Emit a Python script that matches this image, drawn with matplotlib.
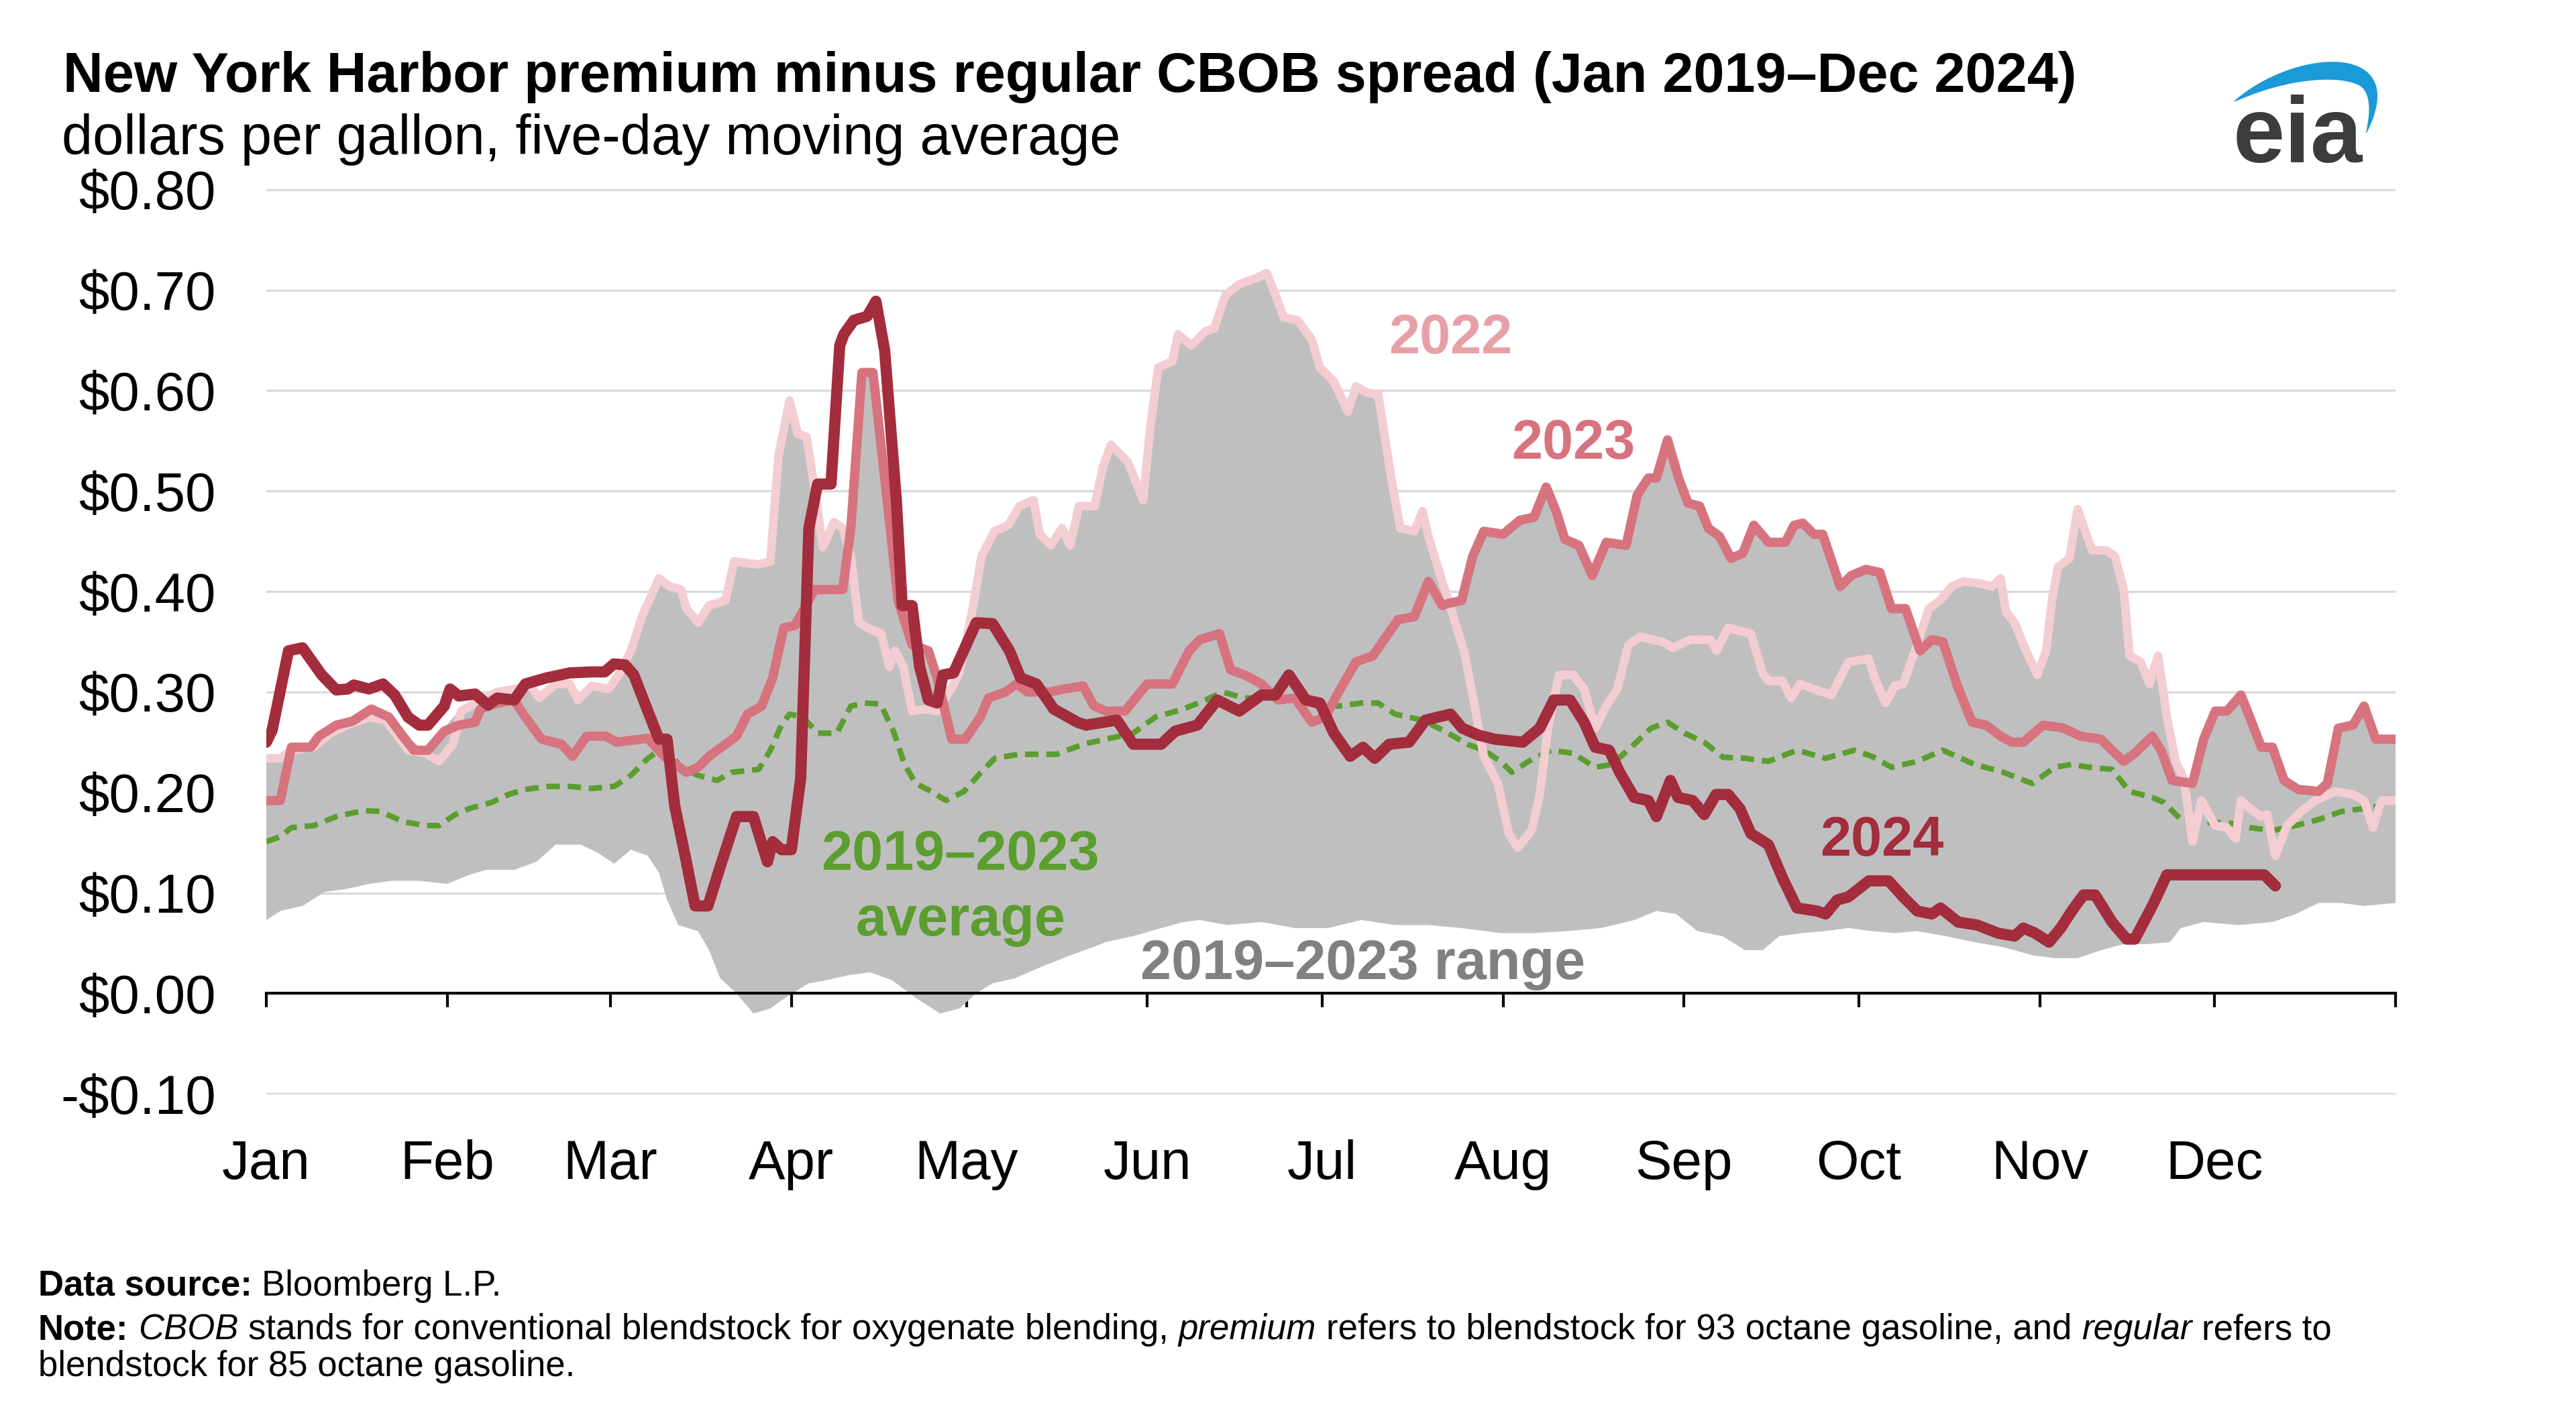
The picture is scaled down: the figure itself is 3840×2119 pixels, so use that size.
import matplotlib
matplotlib.use('Agg')
import matplotlib.pyplot as plt
import numpy as np
from matplotlib.patches import Polygon

plt.rcParams['font.family'] = ['Liberation Sans', 'DejaVu Sans']

# ---- data: day of year (0 = Jan 1), dollars per gallon ----
day_2024 = [0, 1, 3.8, 6.2, 9.5, 12, 14, 15, 17.6, 20, 22, 24.3, 26.2, 27.7, 30.5, 31.5, 33, 35.8, 38, 39.6,
            42.5, 44.4, 48, 52, 55.8, 58, 59.6, 61.5, 63, 65.4, 67.3, 68.7, 70, 72, 73.5, 75.7, 77.8, 80.6,
            83.5, 85.9, 86.8, 88.3, 90, 91.6, 93, 94.5, 96.8, 98.3, 99, 100.7, 103, 104.5, 106, 108, 109,
            110.7, 112, 113.5, 115, 116, 117.8, 121.7, 124.5, 127.4, 129.3, 132, 135, 139, 140.5, 145.8,
            148.6, 153.4, 155.8, 159.6, 163, 166.8, 170.6, 173, 175.3, 178.2, 180.6, 183, 185.8, 188, 190,
            192.5, 195.9, 198.7, 203, 205, 207.8, 210.6, 215.4, 218.3, 220.7, 223.5, 225.9, 227.8, 230.2,
            232, 234.5, 236.9, 238.3, 240.7, 242, 244.5, 246.5, 248.5, 250.6, 252.6, 254.5, 257.5, 259.9,
            262.4, 265.8, 267.3, 269.3, 271.2, 274.7, 278.1, 280.6, 283, 285.5, 287, 290, 293.3, 296.8,
            299.7, 301.2, 303.2, 305.6, 307.6, 309.5, 311.5, 313.5, 316.4, 318.9, 320.3, 323.3, 325.8,
            342.5, 344.4]
val_2024 = [0.250, 0.262, 0.341, 0.344, 0.317, 0.302, 0.303, 0.307, 0.303, 0.308, 0.297, 0.275, 0.267, 0.267,
            0.286, 0.303, 0.296, 0.298, 0.287, 0.294, 0.292, 0.308, 0.314, 0.319, 0.320, 0.320, 0.328, 0.327,
            0.317, 0.281, 0.253, 0.253, 0.187, 0.131, 0.087, 0.087, 0.126, 0.176, 0.176, 0.131, 0.151, 0.143,
            0.143, 0.214, 0.463, 0.507, 0.507, 0.645, 0.656, 0.670, 0.674, 0.689, 0.640, 0.491, 0.386, 0.386,
            0.325, 0.292, 0.289, 0.317, 0.319, 0.369, 0.368, 0.341, 0.314, 0.308, 0.283, 0.270, 0.267, 0.272,
            0.248, 0.248, 0.261, 0.267, 0.292, 0.281, 0.297, 0.297, 0.317, 0.292, 0.289, 0.259, 0.236, 0.245,
            0.234, 0.248, 0.250, 0.272, 0.278, 0.264, 0.257, 0.253, 0.250, 0.264, 0.292, 0.292, 0.270, 0.245,
            0.242, 0.220, 0.195, 0.192, 0.176, 0.212, 0.195, 0.192, 0.178, 0.198, 0.198, 0.184, 0.159, 0.148,
            0.115, 0.085, 0.082, 0.079, 0.093, 0.096, 0.112, 0.112, 0.096, 0.082, 0.079, 0.085, 0.071, 0.068,
            0.060, 0.057, 0.065, 0.060, 0.051, 0.065, 0.082, 0.098, 0.098, 0.071, 0.054, 0.054, 0.087, 0.118,
            0.118, 0.107]

day_2023 = [0, 2.4, 4.3, 7.6, 9, 12, 14.8, 18, 21, 23.4, 25.3, 27.7, 30.5, 33, 35.8, 36.7, 39.6, 42.5, 44.4,
            47.2, 50.6, 52.5, 54.9, 58.2, 60.1, 65.4, 68.2, 72, 74, 75.9, 78.7, 80.6, 82.5, 84.9, 86.8, 88.7,
            90.6, 94, 98.8, 100.2, 102.1, 104, 106, 108.3, 110.7, 113.5, 115, 117.5, 119.8, 122.4, 123.8,
            126.7, 128.6, 130.5, 134.3, 136.7, 140, 141.9, 143.9, 147.2, 151, 155.3, 158.2, 160, 163.4,
            165.3, 167.7, 170.6, 173.4, 176.3, 179.2, 181.5, 184.4, 186.8, 189.7, 191.6, 194, 196.8, 199.2,
            201.6, 202.5, 204.9, 206.8, 208.7, 212, 214.9, 217.3, 219.4, 221.1, 222.6, 225, 227.3, 229.7,
            233.1, 235, 236.9, 238.3, 240.2, 242.1, 243.7, 245.7, 247.2, 249.1, 251.1, 253.1, 255, 257.5,
            260.4, 261.9, 263.4, 265.3, 266.8, 269.8, 271.7, 274.2, 276.6, 278.6, 281, 283.5, 285.5, 287.4,
            289.9, 292.4, 294.8, 297.3, 299.2, 301.2, 304.6, 308.1, 311, 314.5, 316.4, 318.4, 320.3, 323.3,
            324.8, 326.7, 330.2, 332.1, 334.1, 336.1, 338.5, 340, 342, 343.9, 345.9, 348.3, 351.8, 353.3,
            355.2, 357.7, 359.6, 361.6, 365]
val_2023 = [0.192, 0.192, 0.245, 0.245, 0.256, 0.267, 0.271, 0.283, 0.275, 0.256, 0.242, 0.242, 0.261, 0.267,
            0.270, 0.283, 0.289, 0.292, 0.275, 0.253, 0.248, 0.236, 0.256, 0.256, 0.250, 0.254, 0.236, 0.220,
            0.225, 0.236, 0.248, 0.256, 0.278, 0.286, 0.314, 0.364, 0.366, 0.402, 0.402, 0.463, 0.618, 0.618,
            0.513, 0.391, 0.347, 0.341, 0.314, 0.253, 0.253, 0.275, 0.294, 0.300, 0.308, 0.300, 0.300, 0.303,
            0.306, 0.286, 0.281, 0.281, 0.308, 0.308, 0.341, 0.352, 0.358, 0.322, 0.317, 0.308, 0.292, 0.294,
            0.270, 0.275, 0.306, 0.330, 0.336, 0.352, 0.372, 0.375, 0.410, 0.386, 0.388, 0.391, 0.435, 0.460,
            0.457, 0.471, 0.474, 0.504, 0.480, 0.452, 0.446, 0.416, 0.449, 0.446, 0.496, 0.513, 0.513, 0.551,
            0.513, 0.488, 0.485, 0.463, 0.455, 0.433, 0.438, 0.466, 0.449, 0.449, 0.466, 0.468, 0.457, 0.457,
            0.405, 0.416, 0.422, 0.419, 0.383, 0.383, 0.341, 0.352, 0.350, 0.306, 0.270, 0.267, 0.256, 0.250,
            0.250, 0.267, 0.264, 0.256, 0.253, 0.242, 0.231, 0.239, 0.256, 0.242, 0.212, 0.209, 0.253, 0.281,
            0.281, 0.297, 0.275, 0.245, 0.245, 0.212, 0.203, 0.201, 0.209, 0.264, 0.267, 0.286, 0.253, 0.253]

day_2022 = [0, 2.4, 4.3, 8.1, 11, 13.8, 17.6, 20.5, 24.3, 27.2, 29.6, 32, 33.4, 35.8, 39.6, 42.5, 45.3, 46.8,
            49.6, 52, 53.4, 55.8, 58.7, 60.6, 62.5, 64.4, 67.3, 69.2, 71.1, 72, 74, 75.9, 78.7, 80.2, 84.4,
            86.4, 87.8, 89.7, 91.1, 92.6, 94, 95.4, 97.3, 98.8, 100.2, 101.6, 103, 105.4, 106.8, 107.8, 109.2,
            110.7, 113.1, 115, 117.4, 118.8, 121, 122.6, 124.8, 127.2, 129.1, 131.5, 132.6, 134.5, 136.4,
            137.8, 139.3, 142, 143.4, 144.8, 147.7, 150.3, 151.5, 152.9, 155.3, 156.3, 158.6, 161, 162.5,
            164.4, 166.8, 169.7, 171.5, 173, 174.4, 176.8, 179.2, 180.6, 183, 185.4, 186.8, 188.7, 190.6, 193,
            194.4, 196.8, 198.2, 199.2, 201.1, 203.5, 205.4, 207.3, 208.7, 211.1, 213, 214.5, 216.9, 218.3,
            219.7, 221.6, 224, 225.9, 227.8, 229.7, 231.6, 233.5, 235.5, 239.3, 241.2, 244, 247.6, 248.6,
            250.6, 254.5, 256.5, 257.5, 259.9, 261.4, 262.9, 265.3, 268.3, 271.2, 274.7, 275.7, 277.6, 279.1,
            280.6, 283, 285, 286.9, 288.9, 290.9, 293.8, 295.8, 297.3, 298.2, 299.7, 301.2, 303.6, 305.1,
            306.1, 307.1, 309.1, 310.5, 312, 313, 315.4, 316.9, 318.4, 319.4, 321.3, 322.8, 324.3, 325.8,
            327.3, 328.7, 330.2, 331.7, 334.1, 336.1, 337.6, 338.5, 340, 342, 343, 344.4, 346.4, 348.8, 351.3,
            354.7, 357.7, 359.6, 361.1, 362.6, 365]
val_2022 = [0.234, 0.234, 0.242, 0.245, 0.259, 0.267, 0.275, 0.272, 0.242, 0.239, 0.231, 0.248, 0.281, 0.289,
            0.300, 0.303, 0.306, 0.294, 0.308, 0.308, 0.292, 0.306, 0.303, 0.319, 0.341, 0.375, 0.413, 0.405,
            0.402, 0.383, 0.369, 0.386, 0.391, 0.430, 0.427, 0.430, 0.535, 0.590, 0.557, 0.554, 0.502, 0.444,
            0.469, 0.463, 0.435, 0.369, 0.364, 0.358, 0.325, 0.341, 0.325, 0.281, 0.283, 0.281, 0.303, 0.319,
            0.380, 0.435, 0.460, 0.466, 0.485, 0.491, 0.457, 0.446, 0.463, 0.446, 0.485, 0.485, 0.524, 0.546,
            0.529, 0.491, 0.562, 0.623, 0.629, 0.656, 0.645, 0.659, 0.662, 0.695, 0.706, 0.712, 0.717, 0.695,
            0.673, 0.670, 0.651, 0.623, 0.609, 0.579, 0.604, 0.598, 0.596, 0.507, 0.463, 0.460, 0.480, 0.455,
            0.419, 0.375, 0.339, 0.281, 0.236, 0.209, 0.159, 0.145, 0.162, 0.198, 0.264, 0.317, 0.317, 0.303,
            0.264, 0.286, 0.303, 0.347, 0.355, 0.350, 0.344, 0.352, 0.352, 0.341, 0.364, 0.358, 0.319, 0.311,
            0.311, 0.294, 0.308, 0.303, 0.297, 0.330, 0.333, 0.314, 0.289, 0.306, 0.308, 0.347, 0.383, 0.391,
            0.405, 0.410, 0.408, 0.405, 0.413, 0.380, 0.369, 0.347, 0.317, 0.341, 0.391, 0.424, 0.433, 0.482,
            0.457, 0.441, 0.441, 0.435, 0.402, 0.336, 0.330, 0.308, 0.336, 0.275, 0.231, 0.214, 0.151, 0.192,
            0.167, 0.165, 0.154, 0.192, 0.184, 0.176, 0.178, 0.137, 0.167, 0.181, 0.192, 0.201, 0.198, 0.192,
            0.165, 0.192, 0.192]

day_avg = [0, 2.4, 4.3, 8.1, 12, 16.7, 19.6, 23.4, 27.2, 29.6, 32.4, 34.8, 38.6, 41.5, 44.4, 48.2, 52, 55.8,
           59.6, 62.5, 65.4, 68.2, 71.1, 74, 77.3, 79.7, 84.4, 86.4, 88.3, 89.7, 92, 94.5, 97.8, 100.2, 102.6,
           105.3, 107.5, 109.4, 111.3, 114, 116.5, 119.6, 122.5, 124.9, 129, 135.5, 140, 143.9, 148.6, 152.4,
           157.2, 161, 163.9, 167.7, 172.5, 177.3, 180.1, 183.9, 187.7, 190.6, 193.5, 198.2, 202, 205.9,
           208.7, 211.6, 213.5, 216.4, 220.2, 224, 227.8, 230.7, 234.5, 237.4, 240.2, 243.1, 246.5, 249.7,
           253.5, 257.5, 262.4, 267.3, 272.2, 275.2, 278.6, 283, 287.4, 292.8, 297.8, 302.7, 306.6, 309.5,
           312.5, 316.4, 319.4, 323.3, 325.3, 328.2, 331.2, 336.1, 340, 343.9, 347.9, 351.8, 355.7, 359.6, 362]
val_avg = [0.151, 0.156, 0.165, 0.167, 0.176, 0.182, 0.181, 0.171, 0.167, 0.167, 0.178, 0.184, 0.190, 0.198,
           0.203, 0.206, 0.206, 0.204, 0.206, 0.217, 0.234, 0.245, 0.225, 0.217, 0.212, 0.220, 0.223, 0.242,
           0.267, 0.278, 0.275, 0.259, 0.259, 0.286, 0.289, 0.288, 0.261, 0.228, 0.209, 0.201, 0.192, 0.201,
           0.220, 0.234, 0.238, 0.238, 0.248, 0.253, 0.259, 0.275, 0.283, 0.292, 0.300, 0.294, 0.294, 0.292,
           0.286, 0.286, 0.289, 0.289, 0.278, 0.272, 0.261, 0.248, 0.242, 0.231, 0.220, 0.231, 0.242, 0.239,
           0.225, 0.228, 0.248, 0.264, 0.270, 0.259, 0.250, 0.235, 0.234, 0.231, 0.242, 0.234, 0.242, 0.236,
           0.225, 0.231, 0.242, 0.228, 0.220, 0.209, 0.225, 0.228, 0.225, 0.223, 0.201, 0.195, 0.190, 0.173,
           0.170, 0.170, 0.165, 0.162, 0.167, 0.173, 0.181, 0.184, 0.186]

# 2019-2023 range, top edge
day_hi = [0, 2, 4, 8, 11, 14, 18, 21, 24, 27, 30, 33, 36, 40, 43, 45, 47, 50, 52, 53.5, 56, 59, 60.5, 62.5,
          64.5, 67.3, 69, 71, 72, 74, 76, 78.7, 80.2, 84.4, 86.4, 87.8, 89.7, 91, 92.6, 94, 95.4, 97.3, 98.8,
          100.2, 102.1, 104, 106, 108.3, 110.7, 113.5, 115, 117, 118.8, 121, 122.6, 124.8, 127.2, 129.1,
          131.5, 132.6, 134.5, 136.4, 137.8, 139.3, 142, 143.4, 144.8, 147.7, 150.3, 151.5, 152.9, 155.3,
          156.3, 158.6, 161, 162.5, 164.4, 166.8, 169.7, 171.5, 173, 174.4, 176.8, 179.2, 180.6, 183, 185.4,
          186.8, 188.7, 190.6, 193, 194.4, 196.8, 198.2, 199.2, 201, 203.5, 205, 206.8, 208.7, 212, 215,
          217.3, 219.4, 221, 222.6, 225, 227.3, 229.7, 233, 235, 237, 238.3, 240.2, 242, 244, 246, 247.4, 249,
          251, 253, 255, 257.5, 260.4, 262, 263.4, 266.8, 269.8, 271.7, 274.2, 276.6, 278.6, 281, 283, 285,
          287, 289, 291, 293.8, 295.8, 297.3, 298.2, 299.7, 301.2, 303.6, 305, 306, 307, 309, 310.5, 312,
          313, 315.4, 317, 318.4, 319.4, 321.3, 322.8, 324.3, 325.8, 327.3, 328.7, 330.2, 332, 334, 336,
          338.5, 340, 342, 344, 346, 348.3, 351.8, 353.3, 355.2, 357.7, 359.6, 361.6, 365]
val_hi = [0.232, 0.234, 0.245, 0.247, 0.260, 0.270, 0.283, 0.275, 0.256, 0.242, 0.261, 0.281, 0.289, 0.300,
          0.303, 0.306, 0.294, 0.308, 0.308, 0.292, 0.306, 0.303, 0.319, 0.341, 0.375, 0.413, 0.405, 0.402,
          0.383, 0.369, 0.386, 0.391, 0.430, 0.427, 0.430, 0.535, 0.590, 0.557, 0.554, 0.502, 0.444, 0.469,
          0.463, 0.463, 0.618, 0.618, 0.513, 0.391, 0.347, 0.341, 0.314, 0.303, 0.319, 0.380, 0.435, 0.460,
          0.466, 0.485, 0.491, 0.457, 0.446, 0.463, 0.446, 0.485, 0.485, 0.524, 0.546, 0.529, 0.491, 0.562,
          0.623, 0.629, 0.656, 0.645, 0.659, 0.662, 0.695, 0.706, 0.712, 0.717, 0.695, 0.673, 0.670, 0.651,
          0.623, 0.609, 0.579, 0.604, 0.598, 0.596, 0.507, 0.463, 0.460, 0.480, 0.455, 0.419, 0.391, 0.391,
          0.435, 0.460, 0.457, 0.471, 0.474, 0.504, 0.480, 0.452, 0.446, 0.416, 0.449, 0.446, 0.496, 0.513,
          0.513, 0.551, 0.513, 0.491, 0.482, 0.466, 0.455, 0.433, 0.438, 0.466, 0.449, 0.449, 0.466, 0.468,
          0.457, 0.405, 0.416, 0.422, 0.419, 0.383, 0.383, 0.347, 0.383, 0.391, 0.405, 0.410, 0.408, 0.405,
          0.413, 0.380, 0.369, 0.347, 0.317, 0.341, 0.391, 0.424, 0.433, 0.482, 0.457, 0.441, 0.441, 0.435,
          0.402, 0.336, 0.330, 0.308, 0.336, 0.275, 0.231, 0.214, 0.209, 0.253, 0.281, 0.281, 0.297, 0.275,
          0.245, 0.245, 0.212, 0.203, 0.201, 0.209, 0.264, 0.267, 0.286, 0.253, 0.253]

# 2019-2023 range, bottom edge
day_lo = [0, 2.4, 6.2, 10, 13.8, 17.6, 21.5, 26.2, 31, 34.8, 37.7, 42.5, 46.3, 49.6, 53.9, 56.8, 59.6, 62.5,
          65.4, 67.3, 68.7, 70.6, 74, 75.9, 77.8, 80.6, 83.5, 86.4, 88.3, 90.2, 93, 95.9, 99.7, 103.5, 107.3,
          111.2, 115.5, 118.8, 121.7, 124.5, 128.3, 133.1, 137.9, 141.7, 143.9, 148.6, 153.4, 157.2, 160,
          164.8, 170.6, 176.3, 182, 187.7, 193.5, 199.2, 204.9, 211.6, 217.3, 223, 228.8, 234.5, 238.3,
          241.7, 245.3, 249.6, 253.5, 256.5, 259.4, 263.4, 267.3, 271.2, 275.2, 279.1, 283, 287.9, 292.8,
          297.8, 302.7, 306.6, 310.5, 314.5, 318.4, 322.3, 326.3, 328.2, 332.1, 338, 343.9, 347.9, 351.8,
          355.7, 359.6, 365]
val_lo = [0.073, 0.082, 0.087, 0.101, 0.104, 0.109, 0.112, 0.112, 0.109, 0.118, 0.123, 0.123, 0.131, 0.148,
          0.148, 0.140, 0.129, 0.143, 0.137, 0.120, 0.093, 0.068, 0.062, 0.043, 0.015, 0.000, -0.020, -0.015,
          -0.007, 0.000, 0.010, 0.013, 0.018, 0.021, 0.013, -0.004, -0.020, -0.015, 0.000, 0.010, 0.015,
          0.027, 0.038, 0.046, 0.051, 0.057, 0.065, 0.071, 0.073, 0.068, 0.071, 0.065, 0.065, 0.073, 0.068,
          0.068, 0.065, 0.060, 0.060, 0.062, 0.065, 0.073, 0.082, 0.079, 0.062, 0.057, 0.043, 0.043, 0.057,
          0.060, 0.062, 0.065, 0.062, 0.060, 0.062, 0.057, 0.051, 0.046, 0.038, 0.035, 0.035, 0.043, 0.049,
          0.049, 0.051, 0.065, 0.071, 0.068, 0.071, 0.079, 0.090, 0.090, 0.087, 0.090]

month_days = [0, 31, 59, 90, 120, 151, 181, 212, 243, 273, 304, 334, 365]
month_labels = ['Jan', 'Feb', 'Mar', 'Apr', 'May', 'Jun', 'Jul', 'Aug', 'Sep', 'Oct', 'Nov', 'Dec', '']
y_ticks = [-0.1, 0.0, 0.1, 0.2, 0.3, 0.4, 0.5, 0.6, 0.7, 0.8]

c2024 = '#a32c3d'
c2023 = '#d7737f'
c2022 = '#f3cdd2'
cavg = '#5b9e2f'
cfill = '#bfbfbf'

W, H = 3840, 2119
fig = plt.figure(figsize=(19.2, 10.595), dpi=200)
ax = fig.add_axes([397 / W, 1 - 1632 / H, (3571 - 397) / W, (1632 - 282) / H])

ax.fill(np.r_[day_hi, day_lo[::-1]], np.r_[val_hi, val_lo[::-1]], color=cfill, lw=0, zorder=1)
ax.plot(day_avg, val_avg, color=cavg, lw=3.0, dashes=(2.4, 1.4), zorder=3)
ax.plot(day_2022, val_2022, color=c2022, lw=4.6, zorder=4, solid_joinstyle='round')
ax.plot(day_2023, val_2023, color=c2023, lw=5.0, zorder=5, solid_joinstyle='round')
ax.plot(day_2024, val_2024, color=c2024, lw=6.0, zorder=6, solid_joinstyle='round',
        solid_capstyle='round')

ax.set_xlim(0, 365)
ax.set_ylim(-0.1006, 0.8006)
ax.set_yticks(y_ticks)
ax.set_yticklabels([('-$%.2f' % -v) if v < 0 else ('$%.2f' % v) for v in y_ticks])
ax.set_xticks(month_days)
ax.set_xticklabels(month_labels)

for s in ['top', 'right', 'left']:
    ax.spines[s].set_visible(False)
ax.spines['bottom'].set_position(('data', 0))
ax.spines['bottom'].set_linewidth(1.5)
ax.spines['bottom'].set_zorder(7)

ax.yaxis.grid(True, color='#d9d9d9', lw=1.2, zorder=0)
ax.set_axisbelow(True)
ax.tick_params(axis='y', length=0, pad=27, labelsize=29.4)
ax.tick_params(axis='x', direction='out', length=7.5, width=1.5, pad=71, labelsize=29.4)

# series labels
fs_lab = 29.8
ax.text(203, 0.652, '2022', color='#e8a0a8', fontsize=fs_lab, fontweight='bold', ha='center', va='center', zorder=8)
ax.text(224, 0.547, '2023', color=c2023, fontsize=fs_lab, fontweight='bold', ha='center', va='center', zorder=8)
ax.text(277, 0.152, '2024', color=c2024, fontsize=fs_lab, fontweight='bold', ha='center', va='center', zorder=8)
ax.text(119, 0.105, '2019\u20132023\naverage', color=cavg, fontsize=fs_lab, fontweight='bold', ha='center',
        va='center', linespacing=1.34, zorder=8)
ax.text(188, 0.029, '2019\u20132023 range', color='#808080', fontsize=fs_lab, fontweight='bold', ha='center',
        va='center', zorder=8)

# titles
fig.text(94 / W, 1 - 137 / H, 'New York Harbor premium minus regular CBOB spread (Jan 2019\u2013Dec 2024)',
         fontsize=29.8, fontweight='bold', va='baseline')
fig.text(92 / W, 1 - 230 / H, 'dollars per gallon, five-day moving average', fontsize=29.8, va='baseline')

# eia logo
fig.text(3329 / W, 1 - 242 / H, 'eia', fontsize=50, fontweight='bold', color='#3c3c3c', va='baseline')
t = np.linspace(0, 1, 80)
P0, P1, P2, P3 = np.array([3329, 152]), np.array([3420, 70]), np.array([3600, 60]), np.array([3527, 200])
bez = ((1 - t) ** 3)[:, None] * P0 + (3 * (1 - t) ** 2 * t)[:, None] * P1 + \
      (3 * (1 - t) * t ** 2)[:, None] * P2 + (t ** 3)[:, None] * P3
tan = np.gradient(bez, axis=0)
nrm = np.c_[-tan[:, 1], tan[:, 0]]
nrm = nrm / np.linalg.norm(nrm, axis=1)[:, None]
wid = 27 * np.sin(np.pi * t) ** 0.8
inner = bez + nrm * wid[:, None]
pts = np.r_[bez, inner[::-1]]
fig.patches.append(Polygon(np.c_[pts[:, 0] / W, 1 - pts[:, 1] / H], closed=True, color='#1a9ad6',
                           lw=0, transform=fig.transFigure, figure=fig))

# footer with mixed styles
renderer = fig.canvas.get_renderer()
fs_note = 19


def draw_line(x0, y0, pieces):
    sp = fig.text(0, 0, 'a a', fontsize=fs_note)
    aa = fig.text(0, 0, 'aa', fontsize=fs_note)
    space = (sp.get_window_extent(renderer).width - aa.get_window_extent(renderer).width) / (W)
    sp.remove()
    aa.remove()
    x = x0
    for txt, weight, style in pieces:
        if txt.startswith(' '):
            x += space
        tt = fig.text(x, y0, txt.strip(), fontsize=fs_note, fontweight=weight, fontstyle=style, va='baseline')
        x += tt.get_window_extent(renderer).width / W
        if txt.endswith(' '):
            x += space


draw_line(57 / W, 1 - 1932 / H, [('Data source:', 'bold', 'normal'), (' Bloomberg L.P.', 'normal', 'normal')])
draw_line(57 / W, 1 - 1997 / H, [('Note:', 'bold', 'normal'), (' CBOB', 'normal', 'italic'),
                                 (' stands for conventional blendstock for oxygenate blending, ', 'normal', 'normal'),
                                 ('premium', 'normal', 'italic'),
                                 (' refers to blendstock for 93 octane gasoline, and ', 'normal', 'normal'),
                                 ('regular', 'normal', 'italic'), (' refers to', 'normal', 'normal')])
draw_line(57 / W, 1 - 2052 / H, [('blendstock for 85 octane gasoline.', 'normal', 'normal')])

fig.savefig('out.png', dpi=200, facecolor='white')
